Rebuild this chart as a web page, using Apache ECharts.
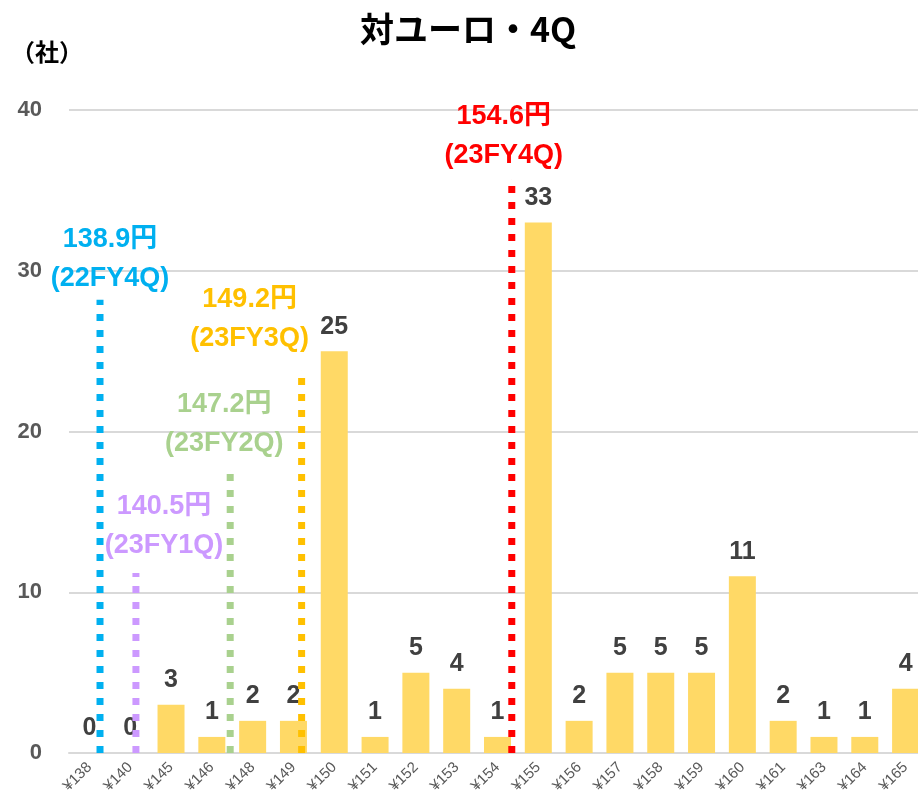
<!DOCTYPE html>
<html>
<head>
<meta charset="utf-8">
<script src="https://cdn.jsdelivr.net/npm/echarts@6/dist/echarts.min.js"></script>
<style>
  html, body { margin: 0; padding: 0; background: #fff; overflow: hidden; }
  #chart { width: 926px; height: 802px; }
</style>
</head>
<body>
<div id="chart"></div>
<script>
// categories (yen per euro) and number of companies
var categories = ['¥138', '¥140', '¥145', '¥146', '¥148', '¥149', '¥150', '¥151', '¥152', '¥153', '¥154',
    '¥155', '¥156', '¥157', '¥158', '¥159', '¥160', '¥161', '¥163', '¥164', '¥165'];
var counts = [0, 0, 3, 1, 2, 2, 25, 1, 5, 4, 1, 33, 2, 5, 5, 5, 11, 2, 1, 1, 4];
var yTicks = [0, 10, 20, 30, 40];

// reference rate markers: position on category index scale, height, label
var markerNames = ['22FY4Q', '23FY1Q', '23FY2Q', '23FY3Q', '23FY4Q'];
var markerRates = ['138.9円', '140.5円', '147.2円', '149.2円', '154.6円'];
var markerPos = [0.26, 1.14, 3.45, 5.2, 10.35];
var markerTop = [28.2, 11.2, 17.6, 23.8, 35.7];
var markerColors = ['#00b0f0', '#cc99ff', '#a9d18e', '#ffc000', '#ff0000'];
var markerLabelOffset = [[10, -2], [28, -8], [-6, -7], [-52, -12], [-8, -4]];

var fontNum = "'Liberation Sans', 'Noto Sans CJK JP', sans-serif";

var markerSeries = markerPos.map(function (x, i) {
    return {
        type: 'line',
        xAxisIndex: 1,
        symbol: 'rect',
        symbolSize: 0.1,
        itemStyle: { color: markerColors[i] },
        lineStyle: { color: markerColors[i], width: 7, type: [7, 9], cap: 'butt' },
        data: [
            [x, 0],
            {
                value: [x, markerTop[i]],
                label: {
                    show: true,
                    position: 'top',
                    distance: 0,
                    offset: markerLabelOffset[i],
                    formatter: markerRates[i] + '\n(' + markerNames[i] + ')',
                    color: markerColors[i],
                    fontSize: 27,
                    fontWeight: 'bold',
                    lineHeight: 39,
                    fontFamily: fontNum
                }
            }
        ],
        z: 3
    };
});

var chart = echarts.init(document.getElementById('chart'));
chart.setOption({
    animation: false,
    backgroundColor: '#fff',
    title: [{
        text: '対ユーロ・4Q',
        left: 463,
        textAlign: 'center',
        top: 7,
        textStyle: { fontSize: 34, fontWeight: 'bold', color: '#000', fontFamily: "'Noto Sans CJK JP', sans-serif" }
    }, {
        text: '（社）',
        left: 6,
        top: 35,
        textStyle: { fontSize: 24, fontWeight: 'bold', color: '#000', fontFamily: "'Noto Sans CJK JP', sans-serif" }
    }],
    grid: { left: 69, right: 0, top: 110, bottom: 49, containLabel: false },
    xAxis: [{
        type: 'category',
        data: categories,
        axisLine: { lineStyle: { color: '#d9d9d9', width: 2 } },
        axisTick: { show: false },
        axisLabel: { rotate: 45, fontSize: 15, color: '#595959', margin: 12, interval: 0, fontFamily: fontNum }
    }, {
        type: 'value',
        min: -0.5,
        max: 20.5,
        show: false
    }],
    yAxis: {
        type: 'value',
        min: yTicks[0],
        max: yTicks[yTicks.length - 1],
        interval: 10,
        axisLine: { show: false },
        axisTick: { show: false },
        axisLabel: { fontSize: 22, fontWeight: 'bold', color: '#595959', margin: 27, fontFamily: fontNum },
        splitLine: { lineStyle: { color: '#d9d9d9', width: 2 } }
    },
    series: [{
        type: 'bar',
        data: counts,
        barWidth: 27,
        itemStyle: { color: '#ffd966' },
        label: {
            show: true,
            position: 'top',
            distance: 12,
            fontSize: 25,
            fontWeight: 'bold',
            color: '#404040',
            fontFamily: fontNum
        }
    }].concat(markerSeries)
});
</script>
</body>
</html>
